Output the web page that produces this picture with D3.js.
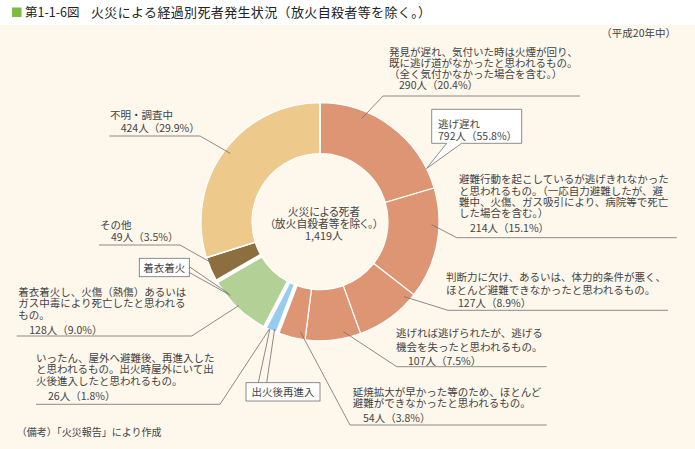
<!DOCTYPE html>
<html><head><meta charset="utf-8">
<script src="https://cdn.jsdelivr.net/npm/d3@7"></script>
<style>
body{margin:0;background:#fff}
svg{display:block;font-family:"Noto Sans CJK JP","Noto Sans",sans-serif}
</style>
</head><body>
<svg id="c" width="695" height="449"></svg>
<script>
// ---- data ----
const categories = [
  "発見が遅れ、気付いた時は火煙が回り、既に逃げ道がなかったと思われるもの。（全く気付かなかった場合を含む。）",
  "避難行動を起こしているが逃げきれなかったと思われるもの。（一応自力避難したが、避難中、火傷、ガス吸引により、病院等で死亡した場合を含む。）",
  "判断力に欠け、あるいは、体力的条件が悪く、ほとんど避難できなかったと思われるもの。",
  "逃げれば逃げられたが、逃げる機会を失ったと思われるもの。",
  "延焼拡大が早かった等のため、ほとんど避難ができなかったと思われるもの。",
  "いったん、屋外へ避難後、再進入したと思われるもの。出火時屋外にいて出火後進入したと思われるもの。",
  "着衣着火し、火傷（熱傷）あるいはガス中毒により死亡したと思われるもの。",
  "その他",
  "不明・調査中"
];
const values = [290, 214, 127, 107, 54, 26, 128, 49, 424];
const percents = ["20.4%", "15.1%", "8.9%", "7.5%", "3.8%", "1.8%", "9.0%", "3.5%", "29.9%"];
const groups = ["逃げ遅れ","逃げ遅れ","逃げ遅れ","逃げ遅れ","逃げ遅れ","出火後再進入","着衣着火","その他","不明・調査中"];
const groupColors = {"逃げ遅れ":"#DD9574","出火後再進入":"#97CBF1","着衣着火":"#B3D197","その他":"#8D6E3F","不明・調査中":"#EDC98B"};
const groupTotal = {name:"逃げ遅れ", value:792, percent:"55.8%"};
const total = 1419;

// ---- setup ----
const svg = d3.select("#c");
const W = 695, H = 449;
svg.append("rect").attr("x",0).attr("y",25).attr("width",W).attr("height",H-25).attr("fill","#FDF7EC");

// title
svg.append("rect").attr("x",12).attr("y",7.5).attr("width",9.5).attr("height",9.5).attr("fill","#7DBB42");
svg.append("text").attr("x",25).attr("y",17).attr("font-size",12.5).attr("fill","#222").text("第1-1-6図");
svg.append("text").attr("x",91).attr("y",17).attr("font-size",13).attr("fill","#222")
  .attr("textLength",340).attr("lengthAdjust","spacing")
  .text("火災による経過別死者発生状況（放火自殺者等を除く。）");

const textColor = "#444", lineColor = "#707070";
const cx = 320, cy = 221.7, rOut = 119, rIn = 68;
const g = svg.append("g").attr("transform",`translate(${cx},${cy})`);

const pie = d3.pie().sort(null).value(d=>d)(values);
const arc = d3.arc().innerRadius(rIn).outerRadius(rOut);

g.selectAll("path.slice").data(pie).join("path").attr("class","slice")
  .attr("d",arc).attr("fill",(d,i)=>groupColors[groups[i]])
  .attr("stroke","#fff").attr("stroke-width",1.2);

// thick gaps between groups
pie.forEach((d,i)=>{
  const j = (i+1)%pie.length;
  if (groups[i]!==groups[j]) {
    const a = d.endAngle;
    const thick = (groups[i]==="出火後再進入"||groups[j]==="出火後再進入"||groups[j]==="その他");
    const w = thick ? 4.2 : 1.6;
    g.append("line")
      .attr("x1",Math.sin(a)*(rIn-1)).attr("y1",-Math.cos(a)*(rIn-1))
      .attr("x2",Math.sin(a)*(rOut+2)).attr("y2",-Math.cos(a)*(rOut+2))
      .attr("stroke","#fff").attr("stroke-width",w);
  }
});

// centre text
const ct = svg.append("text").attr("text-anchor","middle").attr("font-size",10.8).attr("fill",textColor)
  .style("font-feature-settings","'palt'");
[["火災による死者",215.5],["（放火自殺者等を除く。）",227.5],[d3.format(",")(total)+"人",239.5]]
  .forEach(([t,y])=>ct.append("tspan").attr("x",cx+4).attr("y",y).text(t));

// point on slice i at fraction t of its angle span and radius r
function pt(i,t,r){
  const d = pie[i];
  const a = d.startAngle + (d.endAngle-d.startAngle)*t;
  return [cx+Math.sin(a)*r, cy-Math.cos(a)*r];
}

function label(lines, fs){
  const t = svg.append("text").attr("font-size",fs||10.5).attr("fill",textColor);
  lines.forEach(([x,y,s])=>t.append("tspan").attr("x",x).attr("y",y).text(s));
}
function poly(points){
  svg.append("polyline").attr("points",points.map(p=>p.join(",")).join(" "))
    .attr("fill","none").attr("stroke",lineColor).attr("stroke-width",0.8);
}
const num = i => `${values[i]}人（${percents[i]}）`;

// 0
label([[389,55.5,"発見が遅れ、気付いた時は火煙が回り、"],[389,66.5,"既に逃げ道がなかったと思われるもの。"],[389,77.5,"（全く気付かなかった場合を含む。）"],[399,89,num(0)]]);
poly([[580,96],[383,96],pt(0,0.3,111.5)]);
// 1
label([[459,183,"避難行動を起こしているが逃げきれなかった"],[459,194.5,"と思われるもの。（一応自力避難したが、避"],[459,205.5,"難中、火傷、ガス吸引により、病院等で死亡"],[459,217,"した場合を含む。）"],[470,232,num(1)]]);
poly([[676.7,237.7],[456.7,237.7],pt(1,0.33,111.7)]);
// 2
label([[446,280.5,"判断力に欠け、あるいは、体力的条件が悪く、"],[446,293.5,"ほとんど避難できなかったと思われるもの。"],[458,306.5,num(2)]]);
poly([[668,310.3],[448,310.3],pt(2,0.12,112.6)]);
// 3
label([[396,337,"逃げれば逃げられたが、逃げる"],[396,351,"機会を失ったと思われるもの。"],[408,364.5,num(3)]]);
poly([[546.7,366.7],[396.7,366.7],pt(3,0.29,112.4)]);
// 4
label([[352.7,395.5,"延焼拡大が早かった等のため、ほとんど"],[352.7,407,"避難ができなかったと思われるもの。"],[363,421.5,num(4)]]);
poly([[546.7,425],[350,425],pt(4,0.21,111.8)]);
// 5
label([[36,362,"いったん、屋外へ避難後、再進入した"],[36,373,"と思われるもの。出火時屋外にいて出"],[36,384.5,"火後進入したと思われるもの。"],[48,400,num(5)]]);
poly([[36,404.3],[220,404.3],pt(5,0.66,119)]);
// 6
label([[18.3,295.5,"着衣着火し、火傷（熱傷）あるいは"],[18.3,307,"ガス中毒により死亡したと思われる"],[18.3,319,"もの。"],[29.3,334,num(6)]]);
poly([[16.7,336],[191.7,336],pt(6,0.51,116.7)]);
// 7
label([[100,229,categories[7]],[111,240.5,num(7)]]);
poly([[99,245],[180,245],pt(7,0.79,117)]);
// 8
label([[110,119,categories[8]],[120.7,132,num(8)]]);
poly([[109.3,136],[200,136],pt(8,0.51,112.6)]);

// callout: 逃げ遅れ (group total)
{
  const x0=431.7,y0=109.3,x1=521.7,y1=143.3;
  const tip = pt(0,0.863,rOut);
  svg.append("path")
    .attr("d",`M${x0},${y0}H${x1}V${y1}H461.7L${tip[0]},${tip[1]}L446.7,${y1}H${x0}Z`)
    .attr("fill","#fff").attr("stroke",lineColor).attr("stroke-width",0.8);
  label([[438,127.5,groupTotal.name],[438,139.5,`${groupTotal.value}人（${groupTotal.percent}）`]]);
}
// callout: 着衣着火
{
  svg.append("rect").attr("x",139.3).attr("y",258.3).attr("width",50).attr("height",18.4)
    .attr("fill","#fff").attr("stroke",lineColor).attr("stroke-width",0.8);
  svg.append("text").attr("x",164.3).attr("y",271.5).attr("text-anchor","middle").attr("font-size",10.5).attr("fill",textColor).text(groups[6]);
  poly([[189.3,266.7],pt(6,0.75,116.3)]);
  poly([[189.3,272.5],pt(6,0.71,116)]);
}
// callout: 出火後再進入
{
  svg.append("rect").attr("x",246).attr("y",382.7).attr("width",74).attr("height",18.3)
    .attr("fill","#fff").attr("stroke",lineColor).attr("stroke-width",0.8);
  svg.append("text").attr("x",283).attr("y",396).attr("text-anchor","middle").attr("font-size",10.5).attr("fill",textColor).text(groups[5]);
  poly([[258.3,382.7],pt(5,0.62,118.5)]);
  poly([[266.7,382.7],pt(5,0.3,116.5)]);
}

// notes
svg.append("text").attr("x",676).attr("y",37).attr("text-anchor","end").attr("font-size",10.5).attr("fill",textColor).text("（平成20年中）");
svg.append("text").attr("x",16.7).attr("y",435.5).attr("font-size",10).attr("fill",textColor).text("（備考）「火災報告」により作成");
</script>
</body></html>
